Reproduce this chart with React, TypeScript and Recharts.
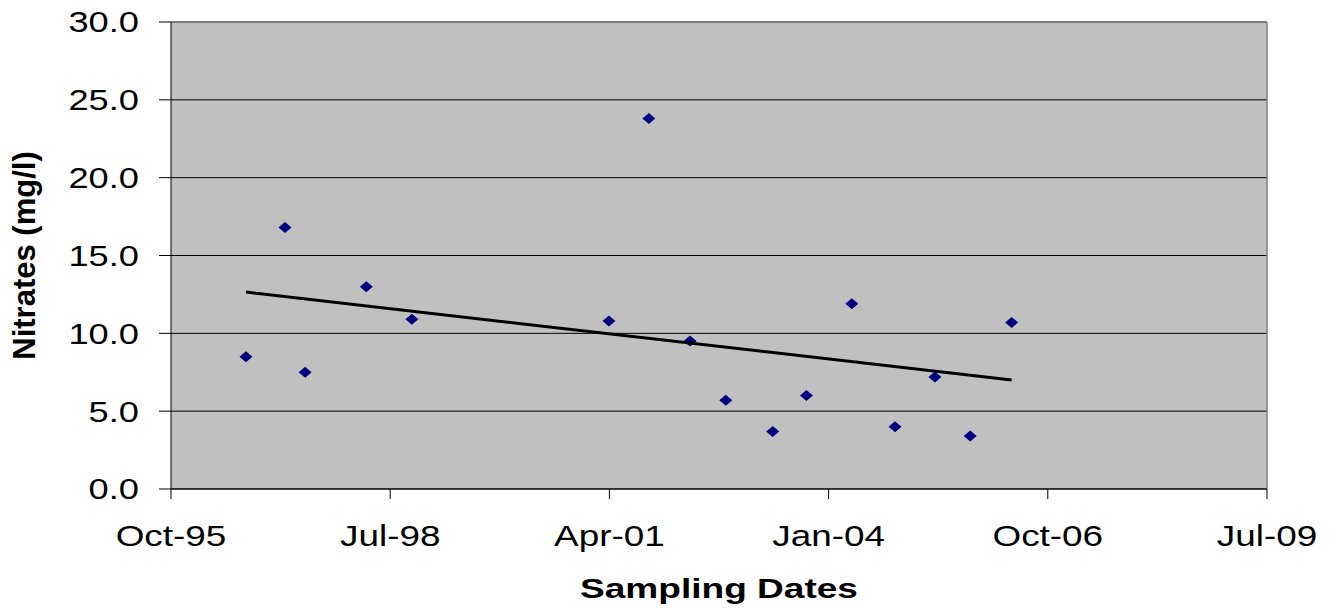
import { ScatterChart, Scatter, XAxis, YAxis, CartesianGrid, ReferenceLine, Label } from "recharts";

// sampling dates as Excel day serials (35000 = 28 Oct 1995)
const sampleDates = [35342, 35520, 35612, 35891, 36099, 36998, 37180, 37368, 37531, 37745, 37899, 38106, 38303, 38485, 38646, 38835];
const nitrates = [8.5, 16.8, 7.5, 13.0, 10.9, 10.8, 23.8, 9.5, 5.7, 3.7, 6.0, 11.9, 4.0, 7.2, 3.4, 10.7];

// linear trend line end points
const trendDates = [35342, 38835];
const trendValues = [12.65, 7.0];

const xTicks = [35000, 36000, 37000, 38000, 39000, 40000];
const xTickLabels = ["Oct-95", "Jul-98", "Apr-01", "Jan-04", "Oct-06", "Jul-09"];
const yTicks = [0, 5, 10, 15, 20, 25, 30];

const points = sampleDates.map((d, i) => ({ x: d, y: nitrates[i] }));
const trend = trendDates.map((d, i) => ({ x: d, y: trendValues[i] }));

const FONT = "'Liberation Sans', Arial, sans-serif";

const Diamond = (props: any) => {
  const { cx, cy } = props;
  if (cx == null || cy == null) return <g />;
  return <path d={`M${cx - 6.5},${cy} L${cx},${cy - 5.5} L${cx + 6.5},${cy} L${cx},${cy + 5.5} Z`} fill="#000080" />;
};

const XTick = ({ x, y, payload }: any) => {
  const idx = xTicks.indexOf(payload.value);
  return (
    <g transform={`translate(${x},${y + 47}) scale(1.23,1)`}>
      <text x={0} y={0} textAnchor="middle" fontFamily={FONT} fontSize={30} fill="#000">
        {xTickLabels[idx]}
      </text>
    </g>
  );
};

const YTick = ({ x, y, payload }: any) => (
  <g transform={`translate(${x},${y}) scale(1.25,1)`}>
    <text x={0} y={0} dy="0.36em" textAnchor="end" fontFamily={FONT} fontSize={29} fill="#000">
      {payload.value.toFixed(1)}
    </text>
  </g>
);

export default function App() {
  return (
    <>
      <style>{"body{margin:0}"}</style>
      <ScatterChart width={1331} height={609} margin={{ top: 22, right: 64, left: 0, bottom: 0 }}>
        <CartesianGrid vertical={false} stroke="#000" fill="#c0c0c0" fillOpacity={1} />
        <XAxis
          type="number"
          dataKey="x"
          domain={[35000, 40000]}
          ticks={xTicks}
          height={120}
          tickSize={10}
          tickMargin={0}
          stroke="#000"
          tick={<XTick />}
          interval={0}
        >
          <Label
            content={({ viewBox }: any) => (
              <g transform={`translate(${viewBox.x + viewBox.width / 2},${viewBox.y + 108.5}) scale(1.3,1)`}>
                <text x={0} y={0} textAnchor="middle" fontFamily={FONT} fontWeight="bold" fontSize={28.5} fill="#000">
                  Sampling Dates
                </text>
              </g>
            )}
          />
        </XAxis>
        <YAxis
          type="number"
          dataKey="y"
          domain={[0, 30]}
          ticks={yTicks}
          width={171}
          tickSize={12}
          tickMargin={20}
          stroke="#000"
          tick={<YTick />}
          interval={0}
        >
          <Label
            content={({ viewBox }: any) => (
              <text
                transform={`translate(35,${viewBox.y + viewBox.height / 2}) rotate(-90)`}
                x={0}
                y={0}
                textAnchor="middle"
                fontFamily={FONT}
                fontWeight="bold"
                fontSize={31}
                fill="#000"
              >
                Nitrates (mg/l)
              </text>
            )}
          />
        </YAxis>
        <ReferenceLine y={30} stroke="#808080" strokeWidth={1.5} />
        <ReferenceLine x={40000} stroke="#808080" strokeWidth={1.5} />
        <Scatter data={points} shape={<Diamond />} isAnimationActive={false} />
        <Scatter
          data={trend}
          line={{ stroke: "#000", strokeWidth: 3 }}
          shape={() => <g />}
          isAnimationActive={false}
        />
      </ScatterChart>
    </>
  );
}
